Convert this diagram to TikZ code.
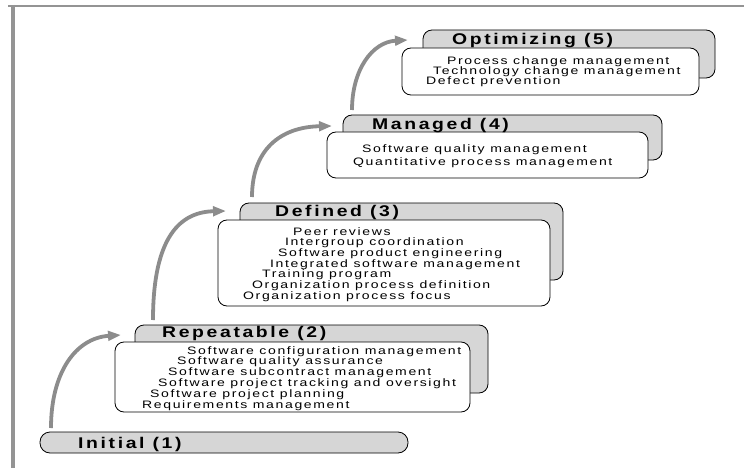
\documentclass[tikz,border=0pt]{standalone}
\usepackage{fontspec}
\setmainfont{Liberation Sans}
\newfontfamily\hdfont[FakeStretch=1.25, LetterSpace=17]{Liberation Sans}
\newfontfamily\bdfont[FakeStretch=1.3, LetterSpace=15]{Liberation Sans}
\usetikzlibrary{arrows.meta}
\begin{document}
\begin{tikzpicture}[x=1pt,y=-1pt,
  tab/.style={draw=black, line width=0.8pt, fill=black!16, rounded corners=9pt, inner sep=0pt},
  card/.style={draw=black, line width=0.8pt, fill=white, rounded corners=9pt, inner sep=0pt},
  hd/.style={anchor=base west, inner sep=0pt, font=\hdfont\bfseries\fontsize{15.5}{15.5}\selectfont},
  ln/.style={anchor=base west, inner sep=0pt, font=\bdfont\fontsize{10.8}{10.8}\selectfont},
  up/.style={draw=black!45, line width=3.8pt, -{Triangle[length=13pt,width=9.5pt]}},
  framel/.style={draw=black!42}
]
\useasboundingbox (0,0) rectangle (744,468);
% frame
\draw[framel, line width=1.5pt] (8,6) -- (744,6);
\draw[framel, line width=4pt] (12.5,5) -- (12.5,468);

% Optimizing (5)
\node[tab, minimum width=292pt, minimum height=48pt] (g5) at (569,54) {};
\node[card, minimum width=297pt, minimum height=47pt] (w5) at (550.5,71.5) {};
\node[hd] (h5) at (452,45) {Optimizing (5)};
\node[ln] (o1) at (447,65) {Process change management};
\node[ln] (o2) at (433,75) {Technology change management};
\node[ln] (o3) at (426,85) {Defect prevention};

% Managed (4)
\node[tab, minimum width=319pt, minimum height=45pt] (g4) at (502.5,137.5) {};
\node[card, minimum width=321pt, minimum height=46pt] (w4) at (487.5,155) {};
\node[hd] (h4) at (372,130) {Managed (4)};
\node[ln] (m1) at (362,153) {Software quality management};
\node[ln] (m2) at (353,165) {Quantitative process management};

% Defined (3)
\node[tab, minimum width=323pt, minimum height=77pt] (g3) at (401.5,241.5) {};
\node[card, minimum width=332pt, minimum height=86pt] (w3) at (384,263) {};
\node[hd] (h3) at (275,216) {Defined (3)};
\node[ln] (d1) at (293,235) {Peer reviews};
\node[ln] (d2) at (285,245.7) {Intergroup coordination};
\node[ln] (d3) at (278,256.3) {Software product engineering};
\node[ln] (d4) at (270,267) {Integrated software management};
\node[ln] (d5) at (262,277.7) {Training program};
\node[ln] (d6) at (252,288.3) {Organization process definition};
\node[ln] (d7) at (243,299) {Organization process focus};

% Repeatable (2)
\node[tab, minimum width=353pt, minimum height=68pt] (g2) at (311.5,359) {};
\node[card, minimum width=355pt, minimum height=70pt] (w2) at (292.5,377) {};
\node[hd] (h2) at (162,337) {Repeatable (2)};
\node[ln] (r1) at (187,354) {Software configuration management};
\node[ln] (r2) at (177,364.8) {Software quality assurance};
\node[ln] (r3) at (168,375.6) {Software subcontract management};
\node[ln] (r4) at (158,386.4) {Software project tracking and oversight};
\node[ln] (r5) at (150,397.2) {Software project planning};
\node[ln] (r6) at (142,408) {Requirements management};

% Initial (1)
\node[tab, minimum width=368pt, minimum height=21pt, rounded corners=10pt] (g1) at (224,442.5) {};
\node[hd] (h1) at (78,448) {Initial (1)};

% arrows
\coordinate (a1s) at (51,428);  \coordinate (a1e) at (121,335);
\coordinate (a2s) at (153,320); \coordinate (a2e) at (226,211);
\coordinate (a3s) at (252,197); \coordinate (a3e) at (332,126);
\coordinate (a4s) at (352,110); \coordinate (a4e) at (408,40);
\draw[up] (a1s) .. controls (51,372) and (76,338) .. (a1e);
\draw[up] (a2s) .. controls (153,245) and (175,212) .. (a2e);
\draw[up] (a3s) .. controls (252,150) and (280,127) .. (a3e);
\draw[up] (a4s) .. controls (352,70) and (372,42) .. (a4e);
\end{tikzpicture}
\end{document}
